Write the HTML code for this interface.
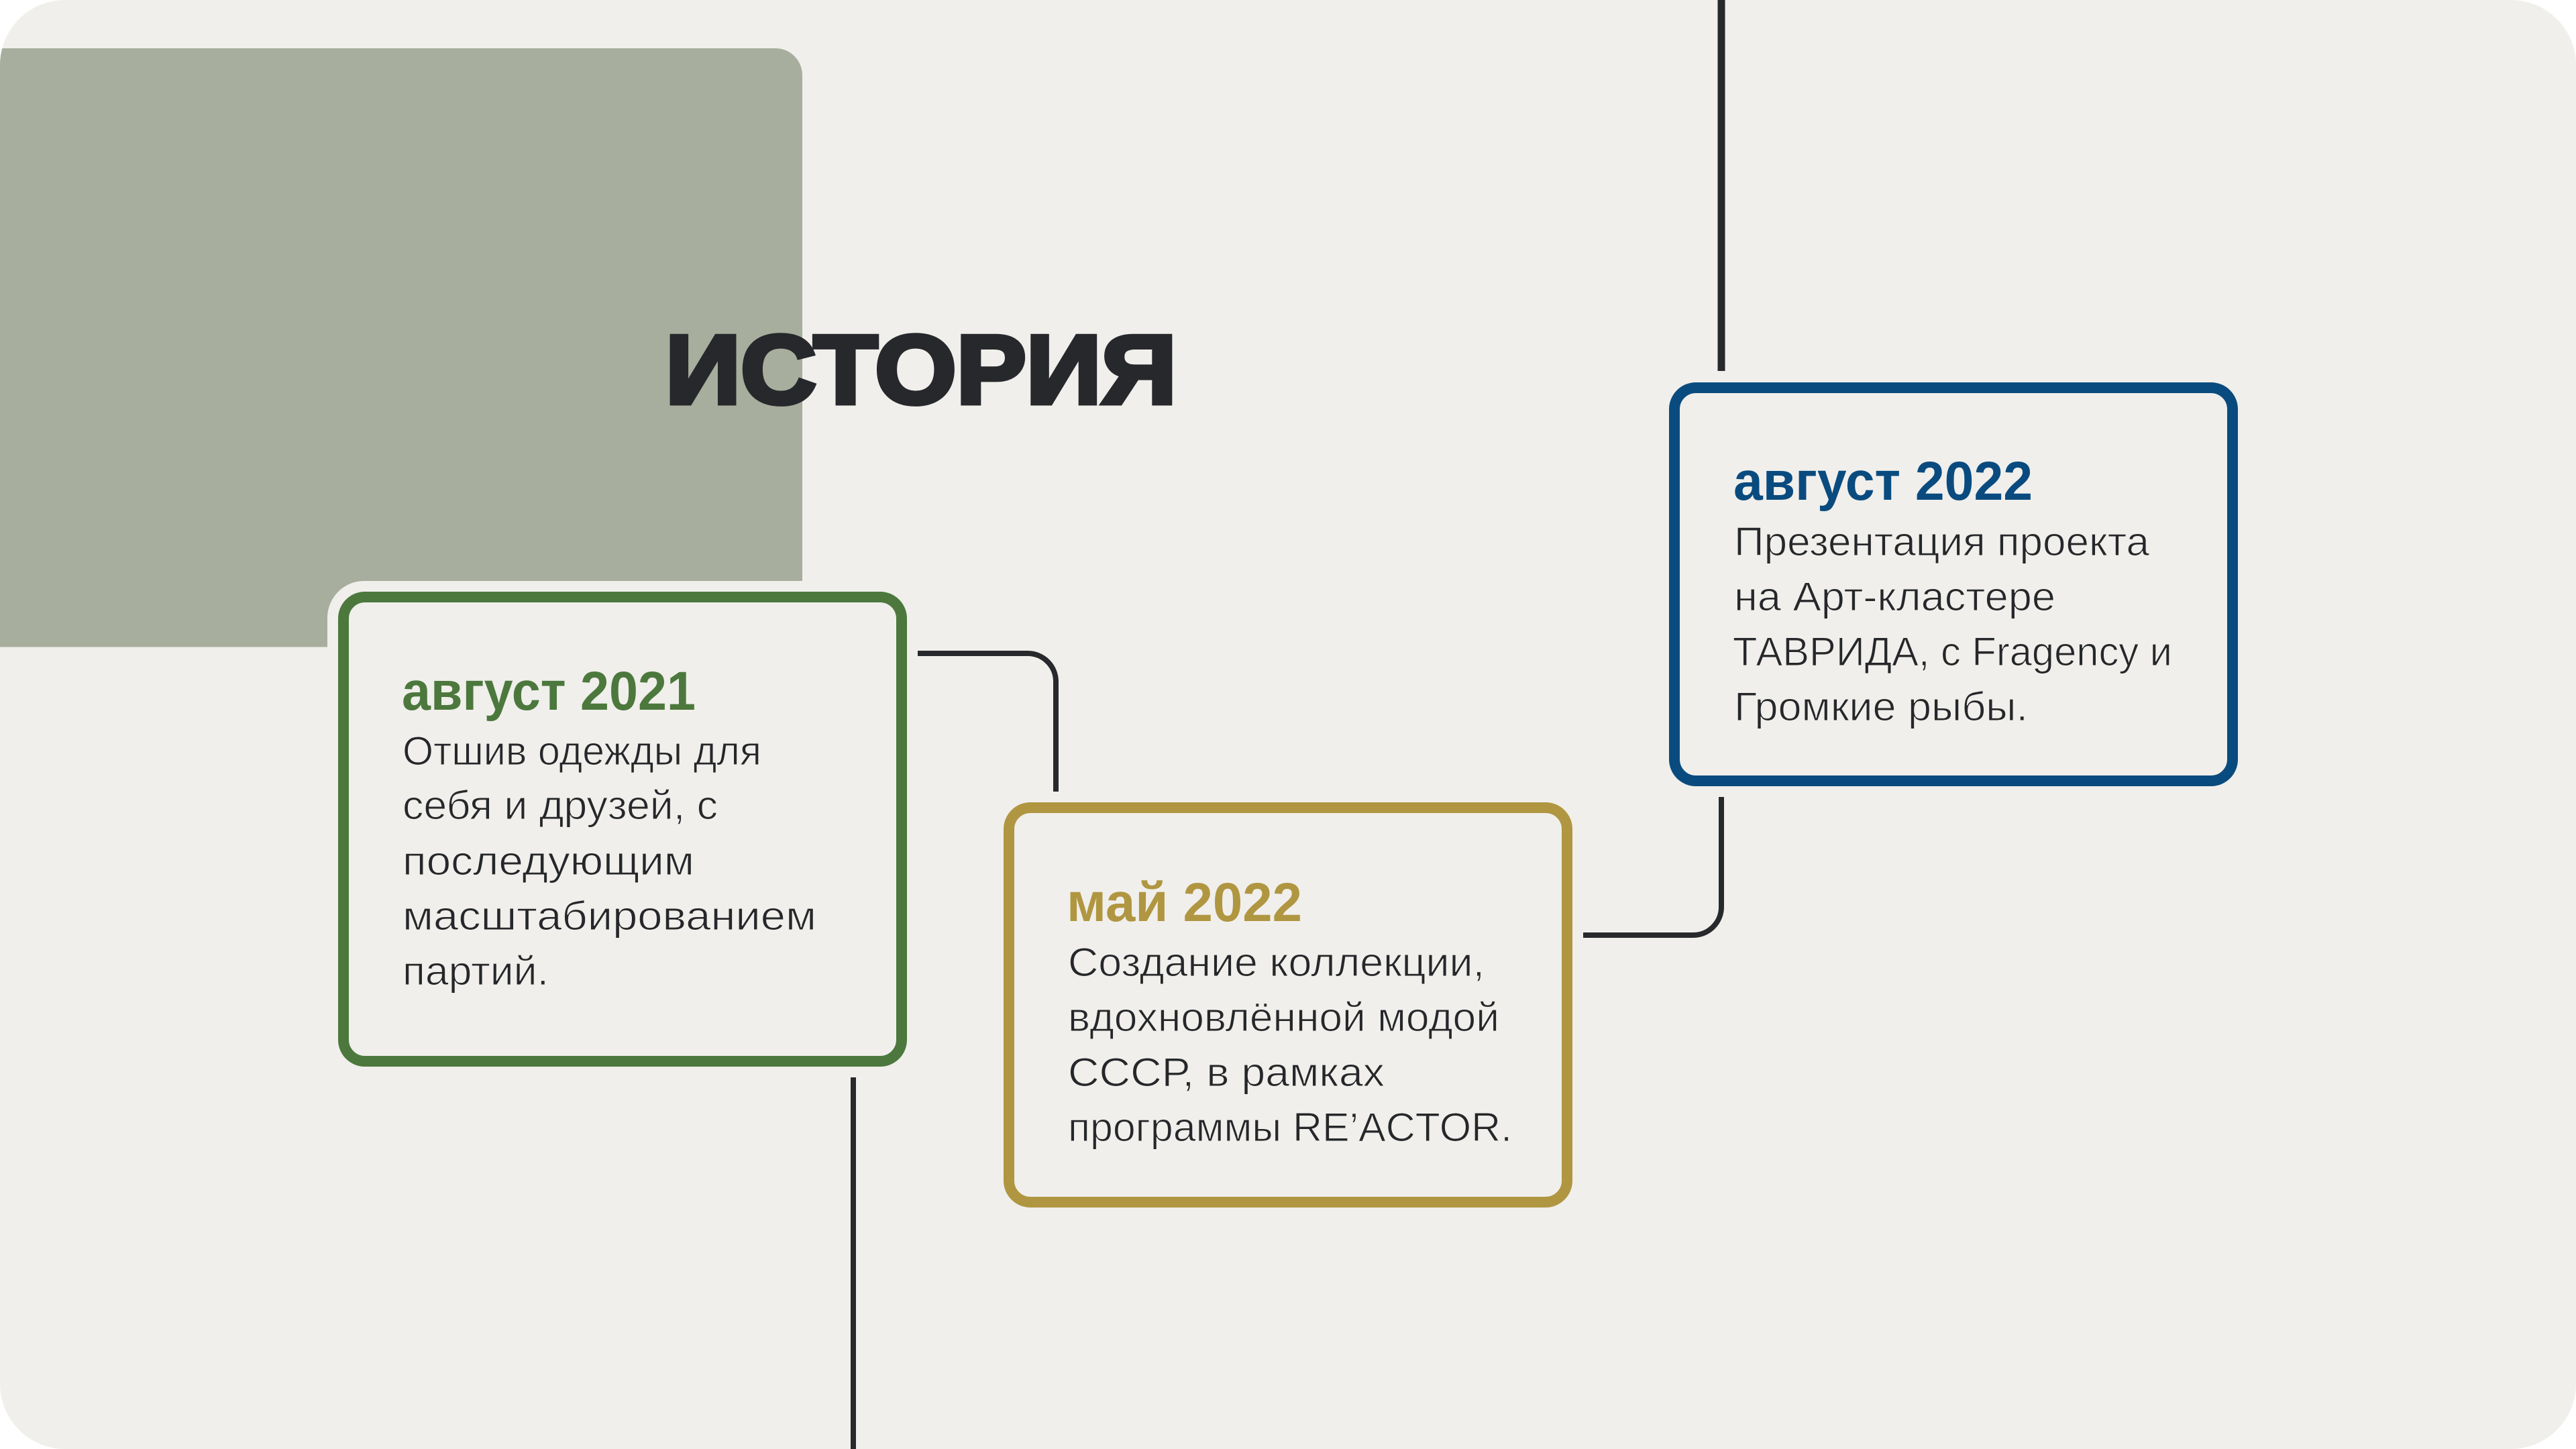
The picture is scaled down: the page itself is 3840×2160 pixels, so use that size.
<!DOCTYPE html>
<html lang="ru"><head><meta charset="utf-8"><title>История</title>
<style>
html,body{margin:0;padding:0;background:#fff;width:3840px;height:2160px;overflow:hidden}
svg{display:block}
text{font-family:"Liberation Sans",sans-serif}
.b{font-size:60px;fill:#26272a;stroke:#f0efeb;stroke-width:1.1px;paint-order:fill}
.h{font-size:82px;font-weight:700}
.t{font-size:145px;font-weight:700;fill:#27282c;stroke:#27282c;stroke-width:7px}
.c{fill:none;stroke:#28292d;stroke-width:8}
.card{fill:#f0efeb;stroke-width:16}
</style></head><body>
<svg xmlns="http://www.w3.org/2000/svg" width="3840" height="2160" viewBox="0 0 3840 2160">
<defs><clipPath id="p"><rect width="3840" height="2160" rx="97" ry="97"/></clipPath></defs>
<g clip-path="url(#p)">
<rect width="3840" height="2160" fill="#f0efeb"/>
<path d="M0 72H1156a40 40 0 0 1 40 40V866H543a55 55 0 0 0-55 55V964.500H0Z" fill="#a7ae9d"/>
<path class="c" d="M2566 0V553" style="stroke-width:11"/>
<path class="c" d="M2566 1188V1352a42 42 0 0 1-42 42H2360"/>
<path class="c" d="M1368 974H1532a42 42 0 0 1 42 42V1180"/>
<path class="c" d="M1272 1606V2160"/>
<rect class="card" x="512" y="890" width="832" height="692" rx="32" stroke="#4c783d"/>
<rect class="card" x="1504" y="1204" width="832" height="588" rx="32" stroke="#b09641"/>
<rect class="card" x="2496" y="578" width="832" height="586" rx="32" stroke="#0a4b7f"/>
</g>
<text class="t" x="992" y="601" textLength="762" lengthAdjust="spacingAndGlyphs">ИСТОРИЯ</text>

<text class="h" x="599" y="1058" fill="#4c783d" textLength="438" lengthAdjust="spacingAndGlyphs">август 2021</text>
<text class="b" x="600" y="1140" textLength="535" lengthAdjust="spacingAndGlyphs">Отшив одежды для</text>
<text class="b" x="600" y="1221" textLength="470" lengthAdjust="spacingAndGlyphs">себя и друзей, с</text>
<text class="b" x="600" y="1304" textLength="435" lengthAdjust="spacingAndGlyphs">последующим</text>
<text class="b" x="600" y="1386" textLength="617" lengthAdjust="spacingAndGlyphs">масштабированием</text>
<text class="b" x="600" y="1468" textLength="218" lengthAdjust="spacingAndGlyphs">партий.</text>

<text class="h" x="1590" y="1373" fill="#b09641" textLength="351" lengthAdjust="spacingAndGlyphs">май 2022</text>
<text class="b" x="1592" y="1455" textLength="621" lengthAdjust="spacingAndGlyphs">Создание коллекции,</text>
<text class="b" x="1592" y="1537" textLength="643" lengthAdjust="spacingAndGlyphs">вдохновлённой модой</text>
<text class="b" x="1592" y="1619" textLength="472" lengthAdjust="spacingAndGlyphs">СССР, в рамках</text>
<text class="b" x="1592" y="1701" textLength="662" lengthAdjust="spacingAndGlyphs">программы RE’ACTOR.</text>

<text class="h" x="2584" y="745" fill="#0a4b7f" textLength="446" lengthAdjust="spacingAndGlyphs">август 2022</text>
<text class="b" x="2585" y="828" textLength="619" lengthAdjust="spacingAndGlyphs">Презентация проекта</text>
<text class="b" x="2585" y="910" textLength="479" lengthAdjust="spacingAndGlyphs">на Арт-кластере</text>
<text class="b" x="2583" y="992" textLength="655" lengthAdjust="spacingAndGlyphs">ТАВРИДА, с Fragency и</text>
<text class="b" x="2585" y="1074" textLength="438" lengthAdjust="spacingAndGlyphs">Громкие рыбы.</text>
</svg>
</body></html>
